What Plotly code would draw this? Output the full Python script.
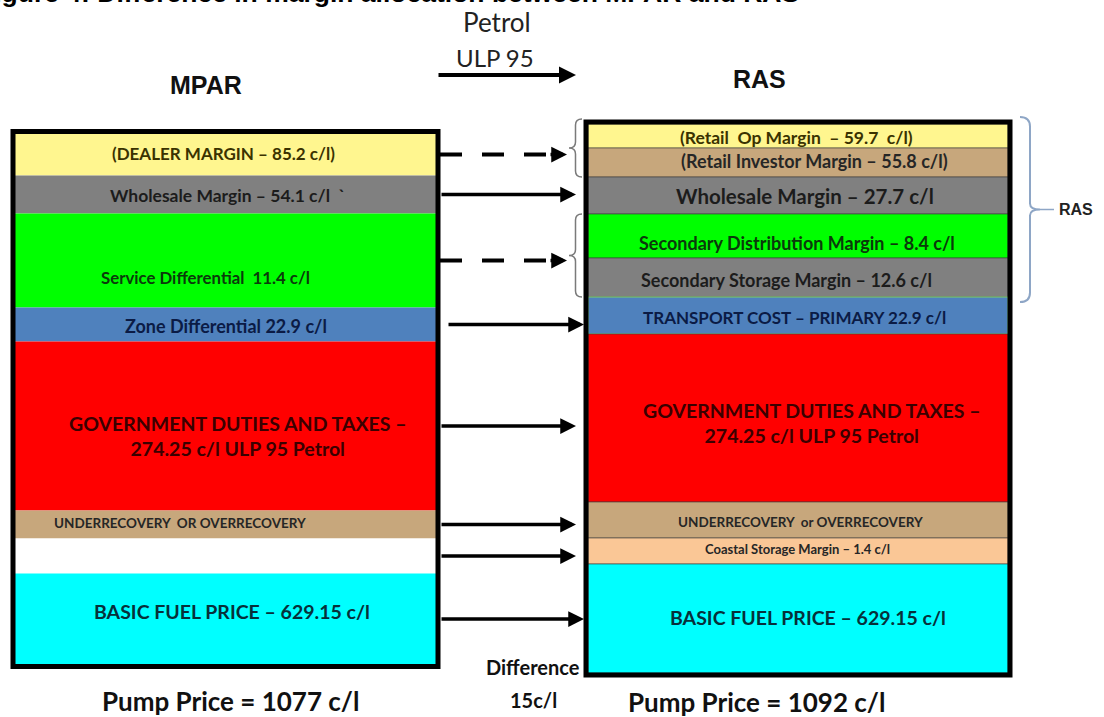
import plotly.graph_objects as go
import numpy as np

# ---------------- data ----------------
mpar_labels = [
    "(DEALER MARGIN – 85.2 c/l)",
    "Wholesale Margin – 54.1 c/l \u00a0`",
    "Service Differential \u00a011.4 c/l",
    "Zone Differential 22.9 c/l",
    "GOVERNMENT DUTIES AND TAXES –<br>274.25 c/l ULP 95 Petrol",
    "UNDERRECOVERY \u00a0OR OVERRECOVERY",
    "",
    "BASIC FUEL PRICE – 629.15 c/l",
]
# relative block heights as drawn in the diagram
mpar_heights = [42, 38, 94, 34, 169, 28, 35, 91]

ras_labels = [
    "(Retail \u00a0Op Margin \u00a0– 59.7 \u00a0c/l)",
    "(Retail Investor Margin – 55.8 c/l)",
    "Wholesale Margin – 27.7 c/l",
    "Secondary Distribution Margin – 8.4 c/l",
    "Secondary Storage Margin – 12.6 c/l",
    "TRANSPORT COST – PRIMARY 22.9 c/l",
    "GOVERNMENT DUTIES AND TAXES –<br>274.25 c/l ULP 95 Petrol",
    "UNDERRECOVERY \u00a0or OVERRECOVERY",
    "Coastal Storage Margin – 1.4 c/l",
    "BASIC FUEL PRICE – 629.15 c/l",
]
ras_heights = [24, 29, 37, 44, 39, 37, 168, 36, 26, 109]

pump_price_mpar = 1077
pump_price_ras = 1092
price_difference = 15

# arrow kind per MPAR block: dashed arrows point to the braces
arrow_kind = ["dash", "solid", "dash", "solid_in", "solid", "solid", "solid", "solid_in"]

# ---------------- styles ----------------
YEL, GRY, GRN, BLU, RED, TAN, WHT, CYN, PCH = (
    "#FFF68F", "#808080", "#00FF00", "#4F81BD", "#FF0000", "#C7A77C", "#FFFFFF", "#00FFFF", "#FAC796")
mpar_colors = [YEL, GRY, GRN, BLU, RED, TAN, WHT, CYN]
ras_colors = [YEL, TAN, GRY, GRN, GRY, BLU, RED, TAN, PCH, CYN]

TXT = {YEL: "#3a3200", GRY: "#1c1c1c", GRN: "#0b3a0b", BLU: "#0b1b45",
       RED: "#3a0000", TAN: "#262626", WHT: "#000000", CYN: "#07303a", PCH: "#262626"}

mpar_fs = [17, 17.5, 16.8, 18, 19.5, 13.5, 12, 19.5]
mpar_off = [(-2, -1), (2, 1), (-20, 17), (0, 1), (12, 10), (-46, -2), (0, 0), (6, -8)]
ras_fs = [17.5, 18, 20.5, 18, 18, 17, 19.5, 13.5, 13, 19.5]
ras_off = [(-2, 1), (16, -2), (7, 0), (-1, 7), (-12, 2), (-4, 2), (14, 5), (2, 2), (-1, -2), (10, -1)]

FONT = "Lato"
BORDER = 5

L_X, L_W, L_TOP = 225.5, 421, 133.5
R_X, R_W, R_TOP = 798, 420, 124

def stack(top, heights):
    h = np.array(heights, dtype=float)
    base = top + np.concatenate([[0], np.cumsum(h)[:-1]])
    return base, base + h / 2, top + h.sum()

l_base, l_mid, l_bot = stack(L_TOP, mpar_heights)
r_base, r_mid, r_bot = stack(R_TOP, ras_heights)

fig = go.Figure()
fig.add_trace(go.Bar(x=[L_X] * len(mpar_heights), y=mpar_heights, base=l_base, width=L_W,
                     marker=dict(color=mpar_colors, line=dict(width=0)),
                     hoverinfo="skip", showlegend=False))
ras_line_col = ["rgba(60,60,60,0.6)"] * len(ras_heights)
ras_line_col[5] = "#7FD36B"
fig.add_trace(go.Bar(x=[R_X] * len(ras_heights), y=ras_heights, base=r_base, width=R_W,
                     marker=dict(color=ras_colors, line=dict(width=1, color=ras_line_col)),
                     hoverinfo="skip", showlegend=False))

shapes = []
ann = []

# box outlines
for cx, w, top, bot in [(L_X, L_W, L_TOP, l_bot), (R_X, R_W, R_TOP, r_bot)]:
    shapes.append(dict(type="rect", xref="x", yref="y",
                       x0=cx - w / 2 - BORDER / 2 + 0.5, x1=cx + w / 2 + BORDER / 2 - 0.5,
                       y0=top - BORDER / 2 + 0.5, y1=bot + BORDER / 2 - 0.5,
                       line=dict(color="black", width=BORDER)))

# segment labels
for labels, mids, cx, cols, fs, off in [(mpar_labels, l_mid, L_X, mpar_colors, mpar_fs, mpar_off),
                                       (ras_labels, r_mid, R_X, ras_colors, ras_fs, ras_off)]:
    for lab, m, c, s, (dx, dy) in zip(labels, mids, cols, fs, off):
        if not lab:
            continue
        ann.append(dict(x=cx + dx, y=m + dy, xref="x", yref="y", text="<b>" + lab + "</b>",
                        showarrow=False, xanchor="center", yanchor="middle",
                        font=dict(family=FONT, size=s, color=TXT[c]), align="center"))

# arrows between boxes
left_edge = L_X + L_W / 2 + BORDER
right_edge = R_X - R_W / 2 - BORDER
for kind, y in zip(arrow_kind, l_mid):
    if kind == "dash":
        tip = right_edge - 16
        shapes.append(dict(type="line", xref="x", yref="y", x0=left_edge - 1, x1=tip - 15, y0=y, y1=y,
                           line=dict(color="black", width=4, dash="22px,20px")))
        ann.append(dict(x=tip, y=y, ax=tip - 18, ay=y, xref="x", yref="y", axref="x", ayref="y",
                        text="", showarrow=True, arrowhead=2, arrowwidth=3.5, arrowsize=0.9,
                        arrowcolor="black"))
    else:
        tip = right_edge + 1 if kind == "solid_in" else right_edge - 7
        start = left_edge + (6 if kind == "solid_in" and y < 400 else -1)
        ann.append(dict(x=tip, y=y, ax=start, ay=y, xref="x", yref="y", axref="x", ayref="y",
                        text="", showarrow=True, arrowhead=2, arrowwidth=3.5, arrowsize=0.9,
                        arrowcolor="black"))

# braces
def brace(xr, xt, y0, y1, col, w):
    ym = (y0 + y1) / 2
    xm = (xr + xt) / 2
    r = min(6, (y1 - y0) / 6)
    if xt < xr:  # points left
        p = (f"M {xr},{y0} Q {xm},{y0} {xm},{y0 + r} L {xm},{ym - r} Q {xm},{ym} {xt},{ym} "
             f"Q {xm},{ym} {xm},{ym + r} L {xm},{y1 - r} Q {xm},{y1} {xr},{y1}")
    else:
        p = (f"M {xr},{y0} Q {xm},{y0} {xm},{y0 + r*1.6} L {xm},{ym - r} Q {xm},{ym} {xt},{ym} "
             f"Q {xm},{ym} {xm},{ym + r} L {xm},{y1 - r*1.6} Q {xm},{y1} {xr},{y1}")
    return dict(type="path", xref="x", yref="y", path=p, line=dict(color=col, width=w))

shapes.append(brace(right_edge - 1, right_edge - 14, r_base[0] - 5, r_base[2], "#7a7a7a", 1.5))
shapes.append(brace(right_edge - 1, right_edge - 14, r_base[3], r_base[5], "#7a7a7a", 1.5))
shapes.append(brace(R_X + R_W / 2 + 12, R_X + R_W / 2 + 32, R_TOP - 7, r_base[5] + 5, "#8EA6C6", 2))
shapes.append(dict(type="line", xref="x", yref="y", x0=R_X + R_W / 2 + 32, x1=R_X + R_W / 2 + 46,
                   y0=(R_TOP - 7 + r_base[5] + 5) / 2, y1=(R_TOP - 7 + r_base[5] + 5) / 2,
                   line=dict(color="#8EA6C6", width=1.5)))
ann.append(dict(x=R_X + R_W / 2 + 49, y=(R_TOP - 7 + r_base[5] + 5) / 2, xref="x", yref="y",
                text="<b>RAS</b>", showarrow=False, xanchor="left", yanchor="middle",
                font=dict(family="Liberation Sans", size=16, color="#222")))

# headers (title is partly cut off at the top-left edge, as in the source image)
ann.append(dict(x=0, y=10, xref="x", yref="y", xanchor="left", yanchor="bottom", showarrow=False,
                xshift=-24,
                text="<b>Figure 4: Difference in margin allocation between MPAR and RAS</b>",
                font=dict(family="Liberation Sans", size=26.5, color="black")))
ann.append(dict(x=206, y=85, xref="x", yref="y", text="<b>MPAR</b>", showarrow=False,
                font=dict(family="Liberation Sans", size=25, color="#111")))
ann.append(dict(x=759, y=79, xref="x", yref="y", text="<b>RAS</b>", showarrow=False,
                font=dict(family="Liberation Sans", size=25, color="#111")))
ann.append(dict(x=497, y=22, xref="x", yref="y", text="Petrol", showarrow=False,
                font=dict(family=FONT, size=26, color="#222")))
ann.append(dict(x=495, y=57, xref="x", yref="y", text="ULP 95", showarrow=False,
                font=dict(family=FONT, size=24, color="#222")))
ann.append(dict(x=576, y=75, ax=437, ay=75, xref="x", yref="y", axref="x", ayref="y", text="",
                showarrow=True, arrowhead=2, arrowwidth=4, arrowsize=0.85, arrowcolor="black"))

# footers
ann.append(dict(x=L_X + 5, y=701, xref="x", yref="y", text=f"<b>Pump Price = {pump_price_mpar} c/l</b>",
                showarrow=False, font=dict(family=FONT, size=26, color="#111")))
ann.append(dict(x=R_X - 42, y=702, xref="x", yref="y", text=f"<b>Pump Price = {pump_price_ras} c/l</b>",
                showarrow=False, font=dict(family=FONT, size=26, color="#111")))
ann.append(dict(x=533, y=667, xref="x", yref="y", text="<b>Difference</b>",
                showarrow=False, font=dict(family=FONT, size=20, color="#111")))
ann.append(dict(x=533, y=700, xref="x", yref="y", text=f"<b>{price_difference}c/l</b>",
                showarrow=False, font=dict(family=FONT, size=20, color="#111")))

fig.update_layout(
    width=1104, height=717, margin=dict(l=0, r=0, t=0, b=0),
    paper_bgcolor="white", plot_bgcolor="white", barmode="overlay",
    xaxis=dict(range=[0, 1104], visible=False, fixedrange=True),
    yaxis=dict(range=[717, 0], visible=False, fixedrange=True),
    shapes=shapes, annotations=ann, showlegend=False,
)
fig.write_html("out.html", config={"displayModeBar": False},
               post_script="document.body.style.margin='0';document.body.style.overflow='hidden';")
